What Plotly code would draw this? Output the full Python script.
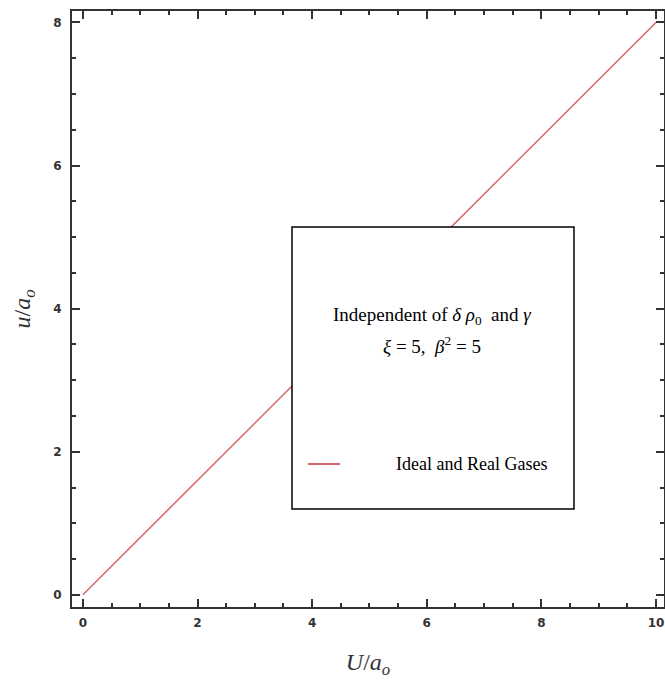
import plotly.graph_objects as go

# Data
U_over_a = [0, 10]
u_over_a = [0, 8]
series_name = "Ideal and Real Gases"
x_tickvals = [0, 2, 4, 6, 8, 10]
y_tickvals = [0, 2, 4, 6, 8]
legend_title_lines = ["Independent of <i>δ</i> <i>ρ</i><sub>0</sub>  and <i>γ</i>",
                      "<i>ξ</i> = 5,  <i>β</i><sup>2</sup> = 5"]

LINE_COLOR = "rgb(214,100,100)"
AX_COLOR = "#333333"
L, R, T, B = 72, 1, 11, 78
PW = 665 - L - R
PH = 685 - T - B


def px(x):
    return (x - L) / PW


def py(y):
    return (685 - B - y) / PH


fig = go.Figure()
fig.add_trace(go.Scatter(x=U_over_a, y=u_over_a, mode="lines",
                         line=dict(color=LINE_COLOR, width=1.5),
                         name=series_name, showlegend=False))

# Legend box (white, bordered)
fig.add_shape(type="rect", xref="paper", yref="paper",
              x0=px(292), x1=px(574), y0=py(509), y1=py(227),
              line=dict(color="black", width=1.5), fillcolor="white",
              layer="above")
fig.add_shape(type="line", xref="paper", yref="paper",
              x0=px(308), x1=px(340), y0=py(464), y1=py(464),
              line=dict(color=LINE_COLOR, width=2), layer="above")
fig.add_annotation(xref="paper", yref="paper", x=px(394), y=py(464),
                   text=series_name, showarrow=False, xanchor="left", yanchor="middle",
                   font=dict(family="Liberation Serif", size=18, color="black"))
fig.add_annotation(xref="paper", yref="paper", x=px(432), y=py(316),
                   text=legend_title_lines[0], showarrow=False, xanchor="center", yanchor="middle",
                   font=dict(family="Liberation Serif", size=19, color="black"))
fig.add_annotation(xref="paper", yref="paper", x=px(432), y=py(345),
                   text=legend_title_lines[1], showarrow=False, xanchor="center", yanchor="middle",
                   font=dict(family="Liberation Serif", size=19, color="black"))

axis_common = dict(showgrid=False, zeroline=False, showline=True, linecolor=AX_COLOR,
                   linewidth=2, mirror="allticks", ticks="inside", ticklen=8,
                   tickwidth=1.5, tickcolor=AX_COLOR, automargin=False,
                   tickfont=dict(family="DejaVu Sans", size=12, color="#333333", weight="bold"))

fig.update_xaxes(range=[-0.19, 10.14], tickvals=x_tickvals, ticklabelstandoff=4,
                 minor=dict(dtick=0.5, ticks="inside", ticklen=4, tickwidth=1.5, tickcolor=AX_COLOR),
                 title=dict(text="<i>U</i>/<i>a</i><sub><i>o</i></sub>",
                            font=dict(family="Liberation Serif", size=24, color=AX_COLOR),
                            standoff=24),
                 **axis_common)
fig.update_yaxes(range=[-0.17, 8.16], tickvals=y_tickvals, ticklabelstandoff=6,
                 minor=dict(dtick=0.5, ticks="inside", ticklen=4, tickwidth=1.5, tickcolor=AX_COLOR),
                 title=dict(text="<i>u</i>/<i>a</i><sub><i>o</i></sub>",
                            font=dict(family="Liberation Serif", size=24, color=AX_COLOR),
                            standoff=16),
                 **axis_common)

fig.update_layout(width=665, height=685, margin=dict(l=L, r=R, t=T, b=B),
                  plot_bgcolor="white", paper_bgcolor="white", showlegend=False)

fig.write_html("out.html", config={"displayModeBar": False},
               post_script="document.body.style.margin='0';document.body.style.overflow='hidden';")
